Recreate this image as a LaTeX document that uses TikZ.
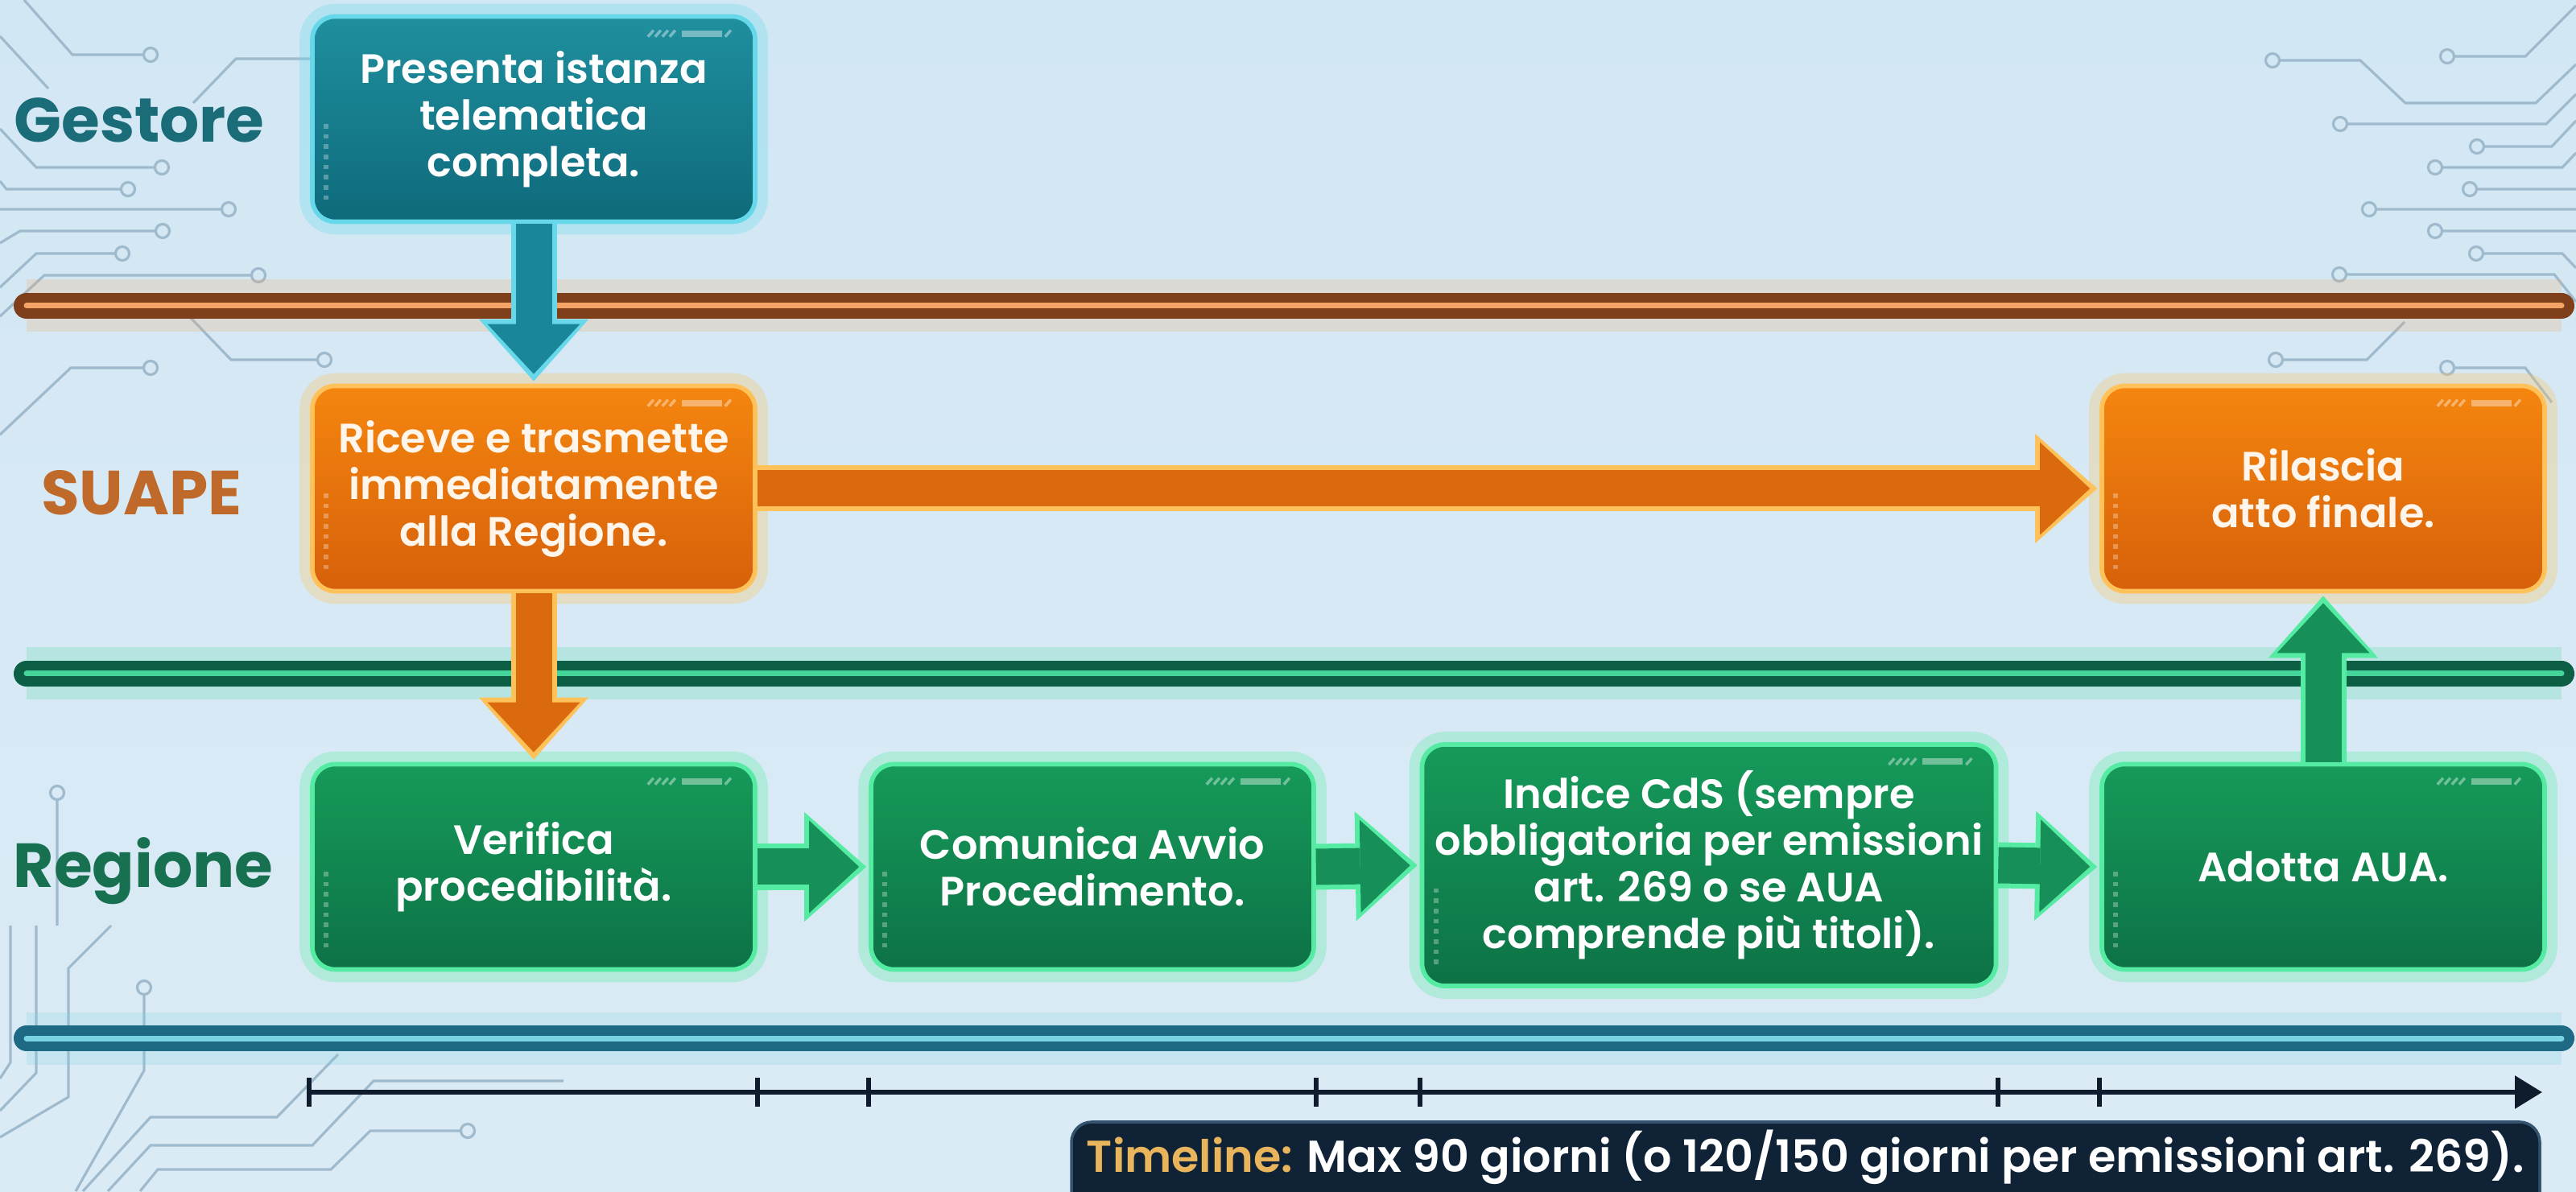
\documentclass[tikz,border=0pt]{standalone}
\usepackage{fontspec}
\setmainfont{Poppins}[BoldFont={Poppins SemiBold}]
\newfontfamily\labelfont{Poppins Bold}
\usetikzlibrary{arrows.meta}

\definecolor{bgtop}{HTML}{D2E7F4}
\definecolor{bgbot}{HTML}{DBEBF5}
\definecolor{trace}{HTML}{9FBACD}
\definecolor{tealtop}{HTML}{1F8F9E}
\definecolor{tealbot}{HTML}{0E6A7B}
\definecolor{tealrim}{HTML}{66D8EA}
\definecolor{tealarr}{HTML}{1A8799}
\definecolor{tealtxt}{HTML}{1B6C79}
\definecolor{orgtop}{HTML}{F5860F}
\definecolor{orgbot}{HTML}{D6600A}
\definecolor{orgrim}{HTML}{FFC25A}
\definecolor{orgarr}{HTML}{DB6A0E}
\definecolor{orgtxt}{HTML}{BF6A2A}
\definecolor{grntop}{HTML}{169A5A}
\definecolor{grnbot}{HTML}{0D7246}
\definecolor{grnrim}{HTML}{55EBA2}
\definecolor{grnarr}{HTML}{178F58}
\definecolor{grntxt}{HTML}{17704F}
\definecolor{navy}{HTML}{0F2236}
\definecolor{navyrim}{HTML}{35536F}
\definecolor{axiscol}{HTML}{0E1C2E}
\definecolor{gold}{HTML}{E8B55C}
\definecolor{orglane}{HTML}{7E3F1A}
\definecolor{orginner}{HTML}{F4A466}
\definecolor{grnlane}{HTML}{0C5E45}
\definecolor{grninner}{HTML}{45D49A}
\definecolor{bluelane}{HTML}{1E6A85}
\definecolor{blueinner}{HTML}{7AD3E2}

\begin{document}
\begin{tikzpicture}[>=latex,
card/.style={rounded corners=8pt, line width=1.6pt, minimum width=5.5cm, minimum height=2.55cm,
  align=center, text=white, font=\bfseries\fontsize{14.5}{16.5}\selectfont},
tealcard/.style={card, draw=tealrim, top color=tealtop, bottom color=tealbot,
  preaction={draw=tealrim, line width=9pt, opacity=.3}},
orangecard/.style={card, draw=orgrim, top color=orgtop, bottom color=orgbot, text=white!92!orange,
  preaction={draw=orgrim, line width=9pt, opacity=.3}},
greencard/.style={card, draw=grnrim, top color=grntop, bottom color=grnbot,
  preaction={draw=grnrim, line width=9pt, opacity=.3}},
deco/.style={draw=white, opacity=.4, line width=2.2pt},
decothin/.style={draw=white, opacity=.4, line width=1pt},
decodots/.style={draw=white, opacity=.3, line width=1.6pt, dotted},
lanelabel/.style={font=\labelfont\fontsize{22}{24}\selectfont},
lane/.style 2 args={draw=#1, line width=0.32cm, line cap=round,
  preaction={draw=#2, line width=0.65cm, opacity=.22},
  postaction={draw=#2, line width=0.07cm}},
rim/.style={draw=#1, line width=0.57cm, shorten >=0.03cm,
  -{Triangle[width=1.36cm,length=0.77cm,line width=0pt]}},
core/.style={draw=#1, line width=0.45cm, shorten >=0.12cm,
  -{Triangle[width=1.15cm,length=0.62cm,line width=0pt]}},
tracestyle/.style={draw=trace, line width=0.9pt},
axisline/.style={draw=axiscol, line width=1.7pt}]

\useasboundingbox (0,0) rectangle (32,14.8);
\fill[top color=bgtop, bottom color=bgbot] (0,0) rectangle (32,14.8);

% circuit traces, left
\draw[tracestyle] (0.30,14.80) -- (0.90,14.12) -- (1.78,14.12) ++(0.09,0) circle[radius=0.085];
\draw[tracestyle] (0,14.35) -- (0.60,13.70);
\draw[tracestyle] (2.40,13.52) -- (2.93,14.07) -- (3.85,14.07);
\draw[tracestyle] (0,13.20) -- (0.45,12.72) -- (1.92,12.72) ++(0.09,0) circle[radius=0.085];
\draw[tracestyle] (0,12.55) -- (0.08,12.45) -- (1.50,12.45) ++(0.09,0) circle[radius=0.085];
\draw[tracestyle] (0,12.20) -- (2.75,12.20) ++(0.09,0) circle[radius=0.085];
\draw[tracestyle] (0,11.78) -- (0.25,11.93) -- (1.93,11.93) ++(0.09,0) circle[radius=0.085];
\draw[tracestyle] (0,11.23) -- (0.45,11.65) -- (1.43,11.65) ++(0.09,0) circle[radius=0.085];
\draw[tracestyle] (0,10.87) -- (0.55,11.38) -- (3.12,11.38) ++(0.09,0) circle[radius=0.085];
\draw[tracestyle] (2.35,10.87) -- (2.87,10.33) -- (3.94,10.33) ++(0.09,0) circle[radius=0.085];
\draw[tracestyle] (0,9.40) -- (0.88,10.23) -- (1.78,10.23) ++(0.09,0) circle[radius=0.085];
\draw[tracestyle] (0.71,4.95) circle[radius=0.085] (0.71,4.87) -- (0.71,3.30);
\draw[tracestyle] (1.79,2.53) circle[radius=0.085] (1.79,2.45) -- (1.79,1.50) -- (0.94,0);
\draw[tracestyle] (1.38,3.30) -- (0.85,2.77) -- (0.85,1.17) -- (0,0.67);
\draw[tracestyle] (0.45,3.30) -- (0.45,1.47) -- (0,1.00);
\draw[tracestyle] (0.13,3.30) -- (0.13,1.60) -- (0,1.40);
\draw[tracestyle] (1.03,0) -- (1.87,0.92) -- (3.44,0.92) -- (4.20,1.70);
\draw[tracestyle] (1.34,0) -- (1.87,0.57) -- (3.88,0.57) -- (4.64,1.37) -- (7.00,1.37);
\draw[tracestyle] (1.74,0) -- (1.96,0.27) -- (4.11,0.27) -- (4.60,0.75) -- (5.72,0.75) ++(0.09,0) circle[radius=0.085];

% circuit traces, right
\draw[tracestyle] (28.23,14.05) circle[radius=0.085] (28.31,14.05) -- (29.32,14.05) -- (29.88,13.52) -- (31.50,13.52) -- (32,14.00);
\draw[tracestyle] (30.40,14.10) circle[radius=0.085] (30.48,14.10) -- (31.37,14.10) -- (32,14.73);
\draw[tracestyle] (29.07,13.26) circle[radius=0.085] (29.15,13.26) -- (31.63,13.26) -- (32,13.63);
\draw[tracestyle] (30.77,12.98) circle[radius=0.085] (30.85,12.98) -- (31.70,12.98) -- (32,13.30);
\draw[tracestyle] (30.25,12.72) circle[radius=0.085] (30.33,12.72) -- (31.83,12.72) -- (32,12.90);
\draw[tracestyle] (30.68,12.45) circle[radius=0.085] (30.76,12.45) -- (32,12.45);
\draw[tracestyle] (29.43,12.20) circle[radius=0.085] (29.51,12.20) -- (32,12.20);
\draw[tracestyle] (30.25,11.93) circle[radius=0.085] (30.33,11.93) -- (32,11.93);
\draw[tracestyle] (30.76,11.65) circle[radius=0.085] (30.84,11.65) -- (31.83,11.65) -- (32,11.47);
\draw[tracestyle] (29.06,11.39) circle[radius=0.085] (29.14,11.39) -- (31.73,11.39) -- (32,11.05);
\draw[tracestyle] (28.27,10.33) circle[radius=0.085] (28.35,10.33) -- (29.40,10.33) -- (29.87,10.80);
\draw[tracestyle] (30.40,10.23) circle[radius=0.085] (30.48,10.23) -- (31.37,10.23) -- (31.70,9.80);

% swimlane separators
\draw[lane={orglane}{orginner}] (0.33,11.00) -- (31.82,11.00);
\draw[lane={grnlane}{grninner}] (0.33,6.43) -- (31.82,6.43);
\draw[lane={bluelane}{blueinner}] (0.33,1.90) -- (31.82,1.90);

% lanes
\node[lanelabel, text=tealtxt] (lgest) at (1.73,13.31) {Gestore};
\node[lanelabel, text=orgtxt] (lsuape) at (1.76,8.68) {SUAPE};
\node[lanelabel, text=grntxt] (lreg) at (1.78,3.98) {Regione};

\node[tealcard] (gest) at (6.63,13.32) {Presenta istanza\\telematica\\completa.};
\node[orangecard] (suape) at (6.63,8.73) {Riceve e trasmette\\immediatamente\\alla Regione.};
\node[orangecard] (rilascia) at (28.86,8.73) {Rilascia\\atto finale.};
\node[greencard] (verifica) at (6.63,4.03) {Verifica\\procedibilità.};
\node[greencard] (avvio) at (13.57,4.03) {Comunica Avvio\\Procedimento.};
\node[greencard, minimum width=7.13cm, minimum height=3.0cm] (cds) at (21.23,4.05)
  {Indice CdS (sempre\\obbligatoria per emissioni\\art. 269 o se AUA\\comprende più titoli).};
\node[greencard] (adotta) at (28.86,4.03) {Adotta AUA.};

% card ornaments
\foreach \n in {gest,suape,rilascia,verifica,avvio,cds,adotta}{
  \draw[deco] ([shift={(-0.94,-0.24)}]\n.north east) -- ++(0.5,0);
  \foreach \k in {0,...,3}
    \draw[decothin] ([shift={(-1.36+\k*0.09,-0.28)}]\n.north east) -- ++(0.07,0.08);
  \draw[decothin] ([shift={(-0.40,-0.28)}]\n.north east) -- ++(0.07,0.08);
  \draw[decodots] ([shift={(0.2,0.3)}]\n.south west) -- ++(0,1.0);
}

% flow
\draw[rim=tealrim] (gest.south) -- (suape.north);
\draw[core=tealarr] (gest.south) -- (suape.north);
\draw[rim=orgrim] (suape.south) -- (verifica.north);
\draw[core=orgarr] (suape.south) -- (verifica.north);
\draw[rim=orgrim] (suape.east) -- (rilascia.west);
\draw[core=orgarr] (suape.east) -- (rilascia.west);
\foreach \a/\b in {verifica/avvio, avvio/cds, cds/adotta}{
  \draw[rim=grnrim] (\a.east) -- (\b.west);
  \draw[core=grnarr] (\a.east) -- (\b.west);
}
\draw[rim=grnrim] (adotta.north) -- (rilascia.south);
\draw[core=grnarr] (adotta.north) -- (rilascia.south);

% timeline
\coordinate (t0) at (3.84,1.23);
\coordinate (t1) at (31.58,1.23);
\draw[axisline, -{Triangle[width=0.4cm,length=0.34cm]}] (t0) -- (t1);
\draw[axisline] (t0) ++(0,-0.18) -- ++(0,0.36);
\foreach \b in {verifica.east, avvio.west, avvio.east, cds.west, cds.east, adotta.west}
  \draw[axisline] (\b |- t0) ++(0,-0.18) -- ++(0,0.36);

\draw[fill=navy, draw=navyrim, line width=1pt, rounded corners=0.25cm] (13.31,-0.4) rectangle (31.55,0.86);
\node[font=\bfseries\fontsize{15.8}{18}\selectfont, text=white] (tline) at (22.43,0.42)
  {\textcolor{gold}{Timeline:} Max 90 giorni (o 120/150 giorni per emissioni art. 269).};

\end{tikzpicture}
\end{document}
